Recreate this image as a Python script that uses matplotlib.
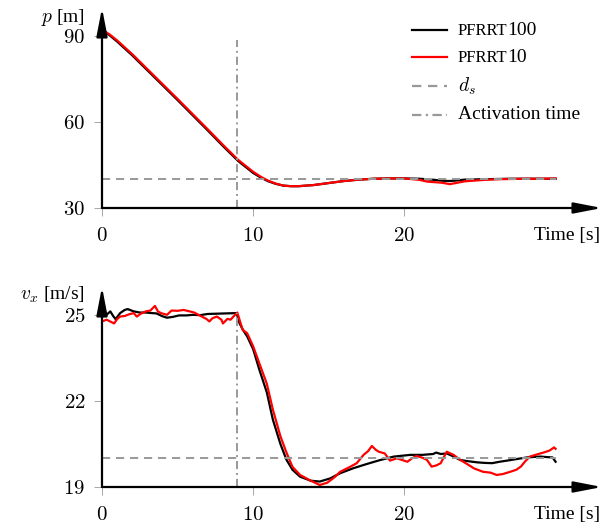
import matplotlib
matplotlib.use("Agg")
import matplotlib.pyplot as plt
from matplotlib.lines import Line2D
from matplotlib.offsetbox import AnchoredOffsetbox, VPacker, HPacker, TextArea, DrawingArea

plt.rcParams["font.family"] = ["Liberation Serif", "DejaVu Serif"]
plt.rcParams["mathtext.fontset"] = "cm"

# distance p [m]
p_t = [0, 0.5, 1, 1.5, 2, 3, 4, 5, 6, 7, 8, 9, 10, 10.5, 11, 11.5, 12, 12.5, 13, 14, 15,
       16, 17, 18, 19, 20, 21, 21.5, 22, 22.5, 23, 23.5, 24, 25, 26, 27, 28, 29, 30]
p_100 = [92.0, 90.2, 88.0, 85.6, 83.2, 78.0, 72.8, 67.6, 62.3, 57.0, 51.6, 46.4, 42.2, 40.6,
         39.3, 38.4, 37.8, 37.6, 37.6, 38.0, 38.7, 39.4, 39.9, 40.2, 40.3, 40.3, 40.2, 40.0,
         39.8, 39.5, 39.4, 39.6, 39.9, 40.0, 40.1, 40.2, 40.2, 40.2, 40.2]
p_10 = [92.2, 90.5, 88.4, 86.0, 83.6, 78.4, 73.2, 68.0, 62.7, 57.4, 52.0, 46.8, 42.6, 40.9,
        39.5, 38.5, 37.8, 37.6, 37.6, 38.0, 38.7, 39.4, 39.9, 40.2, 40.3, 40.3, 39.8, 39.2,
        39.0, 38.8, 38.3, 38.8, 39.3, 39.7, 40.0, 40.1, 40.2, 40.2, 40.3]

# velocity v_x [m/s]
v100_t = [0, 0.3, 0.55, 0.75, 0.9, 1.2, 1.5, 1.7, 2.1, 2.5, 2.9, 3.3, 3.6, 4.0, 4.3, 4.7, 5.1,
          5.6, 6.0, 6.5, 7.0, 7.6, 8.2, 8.9, 9.1, 9.35, 9.6, 10.0, 10.4, 10.9, 11.3, 11.8, 12.2,
          12.6, 13.1, 13.8, 14.4, 15.1, 15.75, 16.6, 17.5, 18.4, 19.3, 20.4, 21.2, 21.9, 22.1,
          22.4, 22.8, 23.3, 23.7, 24.2, 24.8, 25.3, 25.8, 26.3, 26.8, 27.5, 28.1, 28.6, 29.0,
          29.5, 29.8, 30.0]
v100 = [24.94, 25.0, 25.12, 24.95, 24.85, 25.06, 25.17, 25.2, 25.12, 25.08, 25.08, 25.06,
        25.05, 24.95, 24.9, 24.93, 24.98, 24.98, 25.0, 24.99, 25.03, 25.04, 25.05, 25.06, 24.7,
        24.45, 24.25, 23.8, 23.1, 22.3, 21.35, 20.5, 19.95, 19.6, 19.36, 19.22, 19.19, 19.3,
        19.48, 19.65, 19.8, 19.94, 20.06, 20.12, 20.12, 20.15, 20.2, 20.15, 20.17, 20.05, 19.94,
        19.9, 19.86, 19.84, 19.83, 19.88, 19.92, 19.98, 20.03, 20.05, 20.06, 20.04, 20.03, 19.88]
v10_t = [0, 0.3, 0.5, 0.8, 1.0, 1.2, 1.5, 1.8, 2.1, 2.3, 2.6, 2.9, 3.2, 3.5, 3.7, 3.9, 4.3,
         4.6, 5.0, 5.4, 5.8, 6.1, 6.6, 6.9, 7.1, 7.3, 7.6, 7.9, 8.0, 8.3, 8.5, 8.8, 8.95, 9.3,
         9.6, 10.0, 10.4, 10.9, 11.3, 11.8, 12.2, 12.6, 13.1, 13.8, 14.4, 14.9, 15.4, 15.75,
         16.4, 16.85, 17.3, 17.6, 17.85, 18.1, 18.3, 18.7, 19.05, 19.5, 19.8, 20.2, 20.5, 20.8,
         21.2, 21.5, 21.8, 22.1, 22.4, 22.8, 23.25, 23.6, 23.9, 24.3, 24.6, 25.2, 25.7, 26.1,
         26.5, 27.0, 27.4, 27.7, 28.0, 28.3, 28.8, 29.2, 29.6, 29.9, 30.0]
v10 = [24.77, 24.83, 24.78, 24.7, 24.85, 24.94, 24.96, 25.02, 25.06, 24.94, 25.05, 25.12,
       25.15, 25.31, 25.12, 25.06, 25.0, 25.15, 25.14, 25.17, 25.12, 25.08, 24.94, 24.86, 24.77,
       24.88, 24.94, 24.83, 24.7, 24.86, 24.83, 25.0, 25.08, 24.48, 24.36, 23.9, 23.32, 22.6,
       21.7, 20.77, 20.2, 19.7, 19.42, 19.22, 19.07, 19.15, 19.35, 19.53, 19.7, 19.83, 20.12,
       20.25, 20.43, 20.3, 20.23, 20.17, 19.92, 20.0, 19.95, 19.88, 20.0, 20.08, 20.02, 19.94,
       19.71, 19.75, 19.83, 20.23, 20.12, 19.98, 19.88, 19.75, 19.65, 19.53, 19.5, 19.42,
       19.45, 19.53, 19.6, 19.71, 19.9, 20.06, 20.14, 20.2, 20.27, 20.38, 20.33]

t_end = 30
d_s_p = 40
d_s_v = 20
t_act = 8.95
act_top_p = 88.5
act_top_v = 25.05

GRAY = "#999999"
DASH = (4.2, 3)
DASHDOT = (4.2, 2, 1, 2)
W, H = 608, 525
fig = plt.figure(figsize=(W / 100, H / 100), dpi=100)


def make_axes(y_bottom_px, y_top_px, ylim, yticks, ylabel, label_xy):
    ax = fig.add_axes([102 / W, 1 - y_bottom_px / H, 500 / W, (y_bottom_px - y_top_px) / H])
    ax.set_xlim(0, 33.07)
    ax.set_ylim(*ylim)
    for s in ax.spines.values():
        s.set_visible(False)
    arrow = dict(arrowstyle="-|>,head_length=1.7,head_width=0.33", color="black",
                 lw=1.6, shrinkA=0, shrinkB=0, mutation_scale=10)
    ax.annotate("", xy=(1, 0), xytext=(0, 0), xycoords="axes fraction", arrowprops=arrow)
    ax.annotate("", xy=(0, 1), xytext=(0, 0), xycoords="axes fraction", arrowprops=arrow)
    ax.set_xticks([0, 10, 20])
    ax.set_xticklabels([f"${v}$" for v in [0, 10, 20]])
    ax.set_yticks(yticks)
    ax.set_yticklabels([f"${v}$" for v in yticks])
    ax.tick_params(direction="out", length=6, width=0.6, color=GRAY, labelsize=15, pad=6)
    ax.tick_params(axis="x", pad=8)
    ax.text(label_xy[0], label_xy[1], ylabel, transform=ax.transAxes, fontsize=14,
            ha="right", va="center")
    ax.annotate("Time [s]", xy=(1.0, 0), xycoords="axes fraction", xytext=(-1, -20),
                textcoords="offset points", fontsize=14, ha="right", va="center")
    return ax


ax1 = make_axes(208, 8, (30, 99.7), [30, 60, 90], r"$p$ [m]", (-0.035, 0.95))
ax1.plot(p_t, p_100, color="black", lw=1.6)
ax1.plot(p_t, p_10, color="red", lw=1.6)
ax1.plot([0, t_end], [d_s_p, d_s_p], color=GRAY, lw=1.4, dashes=DASH)
ax1.plot([t_act, t_act], [30, act_top_p], color=GRAY, lw=1.4, dashes=DASHDOT)

ax2 = make_axes(487, 287, (19, 25.97), [19, 22, 25], r"$v_x$ [m/s]", (-0.035, 0.96))
ax2.plot(v100_t, v100, color="black", lw=1.6)
ax2.plot(v10_t, v10, color="red", lw=1.6)
ax2.plot([0, t_end], [d_s_v, d_s_v], color=GRAY, lw=1.4, dashes=DASH)
ax2.plot([t_act, t_act], [19, act_top_v], color=GRAY, lw=1.4, dashes=DASHDOT)


# legend with small-caps style labels
def legend_row(color, dashes, parts):
    da = DrawingArea(25, 8, 0, 0)
    ln = Line2D([0, 25], [4, 4], color=color, lw=1.6)
    if dashes:
        ln.set_dashes(dashes)
    da.add_artist(ln)
    texts = [TextArea(s, textprops=dict(fontsize=fs)) for s, fs in parts]
    label = HPacker(children=texts, align="baseline", pad=0, sep=0)
    return HPacker(children=[da, label], align="center", pad=0, sep=8)


rows = [
    legend_row("black", None, [("PFRRT", 12), ("100", 14)]),
    legend_row("red", None, [("PFRRT", 12), ("10", 14)]),
    legend_row(GRAY, DASH, [(r"$d_s$", 14)]),
    legend_row(GRAY, DASHDOT, [("Activation time", 14)]),
]
box = VPacker(children=rows, align="left", pad=0, sep=7)
anchored = AnchoredOffsetbox(loc="upper left", child=box, pad=0, frameon=False,
                             bbox_to_anchor=(412 / W, 1 - 22 / H),
                             bbox_transform=fig.transFigure, borderpad=0)
fig.add_artist(anchored)

fig.savefig("out.png", dpi=100)
